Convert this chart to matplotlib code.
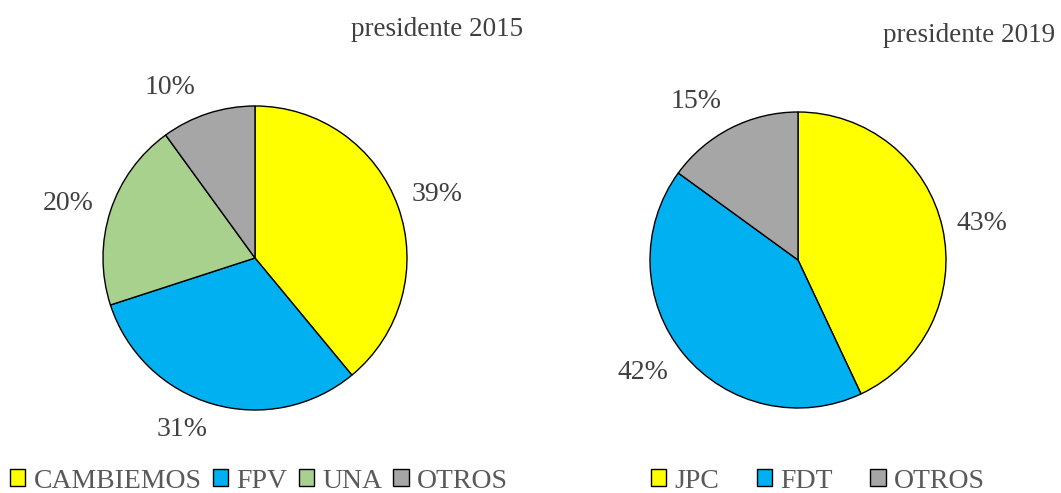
import matplotlib.pyplot as plt
from matplotlib.patches import Patch

plt.rcParams['font.family'] = ['Liberation Serif', 'DejaVu Serif']

labels_2015 = ["CAMBIEMOS", "FPV", "UNA", "OTROS"]
values_2015 = [39, 31, 20, 10]
colors_2015 = ["#FFFF00", "#00B0F0", "#A9D18E", "#A6A6A6"]

labels_2019 = ["JPC", "FDT", "OTROS"]
values_2019 = [43, 42, 15]
colors_2019 = ["#FFFF00", "#00B0F0", "#A6A6A6"]

text_color = "#404040"
W, H = 1061, 493

fig = plt.figure(figsize=(W / 100, H / 100), dpi=100)


def pie_axes(cx, cy, r):
    return fig.add_axes([(cx - r) / W, (H - cy - r) / H, 2 * r / W, 2 * r / H])


def draw_pie(ax, values, colors, label_pos):
    wedges, texts, autotexts = ax.pie(
        values, colors=colors, startangle=90, counterclock=False,
        autopct="%d%%", pctdistance=1.25,
        wedgeprops=dict(edgecolor="black", linewidth=1.0),
        textprops=dict(color=text_color, fontsize=20))
    for t, p in zip(autotexts, label_pos):
        t.set_position(p)
    ax.set_xlim(-1, 1)
    ax.set_ylim(-1, 1)


ax1 = pie_axes(255, 258, 152)
draw_pie(ax1, values_2015, colors_2015,
         [(1.20, 0.42), (-0.48, -1.125), (-1.23, 0.36), (-0.56, 1.125)])

ax2 = pie_axes(798, 260, 148)
draw_pie(ax2, values_2019, colors_2019,
         [(1.24, 0.25), (-1.05, -0.76), (-0.69, 1.07)])

fig.text(437 / W, 1 - 29 / H, "presidente 2015", ha="center", va="center",
         fontsize=19.5, color=text_color)
fig.text(969 / W, 1 - 36 / H, "presidente 2019", ha="center", va="center",
         fontsize=19.5, color=text_color)

h1 = [Patch(facecolor=c, edgecolor="black", linewidth=1.0) for c in colors_2015]
fig.legend(h1, labels_2015, loc="center", bbox_to_anchor=(259 / W, 1 - 481 / H),
           ncol=4, frameon=False, fontsize=20, handlelength=0.55, handleheight=0.55,
           handletextpad=0.3, columnspacing=0.4, labelcolor="#595959",
           borderpad=0, borderaxespad=0)

h2 = [Patch(facecolor=c, edgecolor="black", linewidth=1.0) for c in colors_2019]
fig.legend(h2, labels_2019, loc="center", bbox_to_anchor=(818 / W, 1 - 481 / H),
           ncol=3, frameon=False, fontsize=20, handlelength=0.55, handleheight=0.55,
           handletextpad=0.3, columnspacing=1.35, labelcolor="#595959",
           borderpad=0, borderaxespad=0)

fig.savefig("out.png", dpi=100, facecolor="white")
